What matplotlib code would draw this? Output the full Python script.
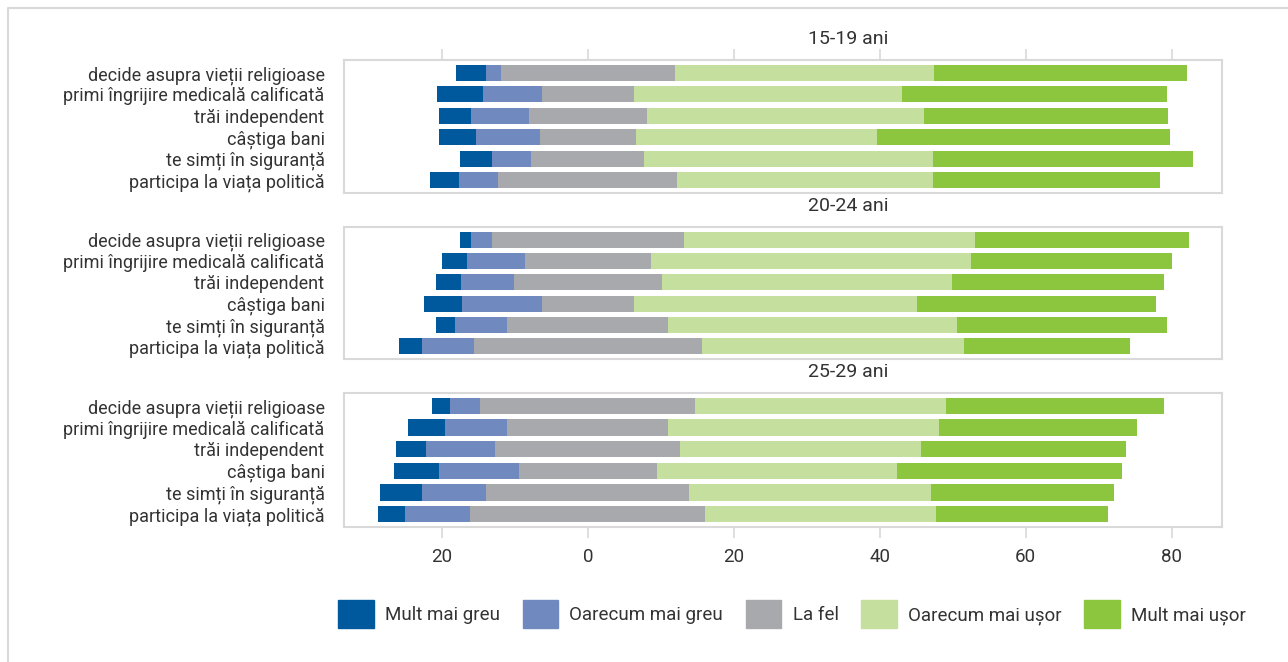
import numpy as np
import matplotlib
matplotlib.use("Agg")
import matplotlib.pyplot as plt
from matplotlib.lines import Line2D

plt.rcParams['font.family'] = ['Roboto', 'DejaVu Sans']

# Data (percentages)
categories = [
    "decide asupra vieții religioase",
    "primi îngrijire medicală calificată",
    "trăi independent",
    "câștiga bani",
    "te simți în siguranță",
    "participa la viața politică",
]
series = ["Mult mai greu", "Oarecum mai greu", "La fel", "Oarecum mai ușor", "Mult mai ușor"]
groups = ["15-19 ani", "20-24 ani", "25-29 ani"]

# 15-19 ani
g1_mult_greu = [4.2, 6.3, 4.5, 5.1, 4.4, 4.0]
g1_oarecum_greu = [2.0, 8.1, 7.9, 8.7, 5.4, 5.4]
g1_la_fel = [23.8, 12.6, 16.1, 13.1, 15.5, 24.5]
g1_oarecum_usor = [35.5, 36.8, 38.0, 33.1, 39.6, 35.0]
g1_mult_usor = [34.7, 36.2, 33.4, 40.1, 35.6, 31.1]

# 20-24 ani
g2_mult_greu = [1.5, 3.5, 3.5, 5.2, 2.6, 3.1]
g2_oarecum_greu = [2.8, 7.9, 7.2, 10.9, 7.2, 7.1]
g2_la_fel = [26.3, 17.2, 20.3, 12.6, 22.1, 31.2]
g2_oarecum_usor = [39.9, 43.9, 39.7, 38.8, 39.6, 35.9]
g2_mult_usor = [29.3, 27.5, 29.1, 32.8, 28.7, 22.8]

# 25-29 ani
g3_mult_greu = [2.5, 5.1, 4.1, 6.2, 5.8, 3.7]
g3_oarecum_greu = [4.2, 8.5, 9.5, 10.9, 8.8, 8.9]
g3_la_fel = [29.4, 22.1, 25.4, 18.9, 27.8, 32.2]
g3_oarecum_usor = [34.4, 37.1, 33.0, 32.9, 33.1, 31.6]
g3_mult_usor = [29.8, 27.1, 28.1, 30.9, 25.1, 23.6]

group_data = [
    [g1_mult_greu, g1_oarecum_greu, g1_la_fel, g1_oarecum_usor, g1_mult_usor],
    [g2_mult_greu, g2_oarecum_greu, g2_la_fel, g2_oarecum_usor, g2_mult_usor],
    [g3_mult_greu, g3_oarecum_greu, g3_la_fel, g3_oarecum_usor, g3_mult_usor],
]

colors = ["#00599c", "#7089be", "#a8a9ad", "#c5e09e", "#8cc63f"]
text_color = "#333333"
frame_color = "#d9d9d9"

fig = plt.figure(figsize=(12.88, 6.62), dpi=100)

# outer border (left and top)
fig.add_artist(Line2D([8 / 1288, 8 / 1288, 1], [0, 1 - 8 / 662, 1 - 8 / 662],
                      transform=fig.transFigure, color=frame_color, lw=1.5))

# panel positions in figure pixels (top, bottom)
panels_px = [(60, 193), (227, 359), (393, 527)]
left_px, right_px = 344, 1222

y = np.arange(len(categories))
for gi, (top, bottom) in enumerate(panels_px):
    ax = fig.add_axes([left_px / 1288, 1 - bottom / 662,
                       (right_px - left_px) / 1288, (bottom - top) / 662])
    vals = np.array(group_data[gi])
    start = -(vals[0] + vals[1] + vals[2] / 2)
    for si in range(len(series)):
        ax.barh(y, vals[si], left=start, height=0.75, color=colors[si])
        start = start + vals[si]

    ax.set_xlim(-33.4, 86.9)
    ax.set_ylim(5.6, -0.6)
    ax.set_yticks(y)
    ax.set_yticklabels(categories, fontsize=13, color=text_color)
    ax.tick_params(axis='y', length=0, pad=14)
    ax.set_xticks([-20, 0, 20, 40, 60, 80])
    ax.set_xticklabels([str(abs(v)) for v in [-20, 0, 20, 40, 60, 80]],
                       fontsize=13.5, color=text_color)
    if gi == 0:
        ax.tick_params(axis='x', top=True, bottom=False, labeltop=False,
                       labelbottom=False, length=8, color=frame_color, width=1.2)
    elif gi == 2:
        ax.tick_params(axis='x', top=False, bottom=True, labelbottom=True,
                       length=8, color=frame_color, width=1.2, pad=7)
    else:
        ax.tick_params(axis='x', bottom=False, labelbottom=False)
    for sp in ax.spines.values():
        sp.set_color(frame_color)
        sp.set_linewidth(1.5)
    ax.text(0.574, 1.0 + 21 / (bottom - top), groups[gi], transform=ax.transAxes,
            ha='center', va='center', fontsize=14, color=text_color)

handles = [plt.Rectangle((0, 0), 1, 1, color=c) for c in colors]
fig.legend(handles, series, loc='center', bbox_to_anchor=(792 / 1288, 1 - 614 / 662),
           ncol=5, frameon=False, fontsize=13.5, handlelength=1.9, handleheight=1.9,
           handletextpad=0.6, columnspacing=1.2, labelcolor=text_color)

fig.savefig("out.png", dpi=100)
